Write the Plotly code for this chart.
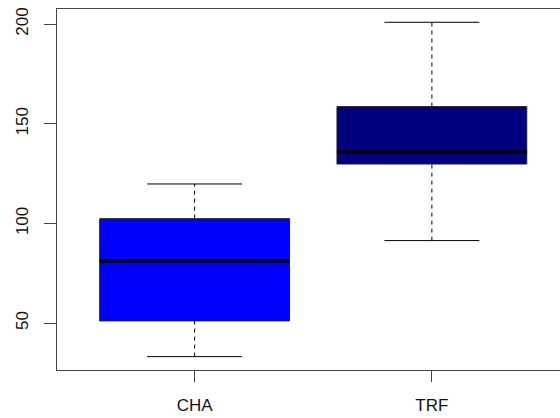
import plotly.graph_objects as go

categories = ["CHA", "TRF"]
positions = [1, 2]
lower_whisker = [33.2, 91.4]
q1 = [51.1, 129.8]
median = [81.2, 135.8]
q3 = [102.4, 158.6]
upper_whisker = [119.8, 200.9]
fill_colors = ["#0000FF", "#000080"]
y_ticks = [50, 100, 150, 200]

box_width = 0.8
cap_width = 0.4

fig = go.Figure()

for i, cat in enumerate(categories):
    x0 = positions[i]
    # dashed whiskers
    for a, b in [(lower_whisker[i], q1[i]), (q3[i], upper_whisker[i])]:
        fig.add_trace(go.Scatter(
            x=[x0, x0], y=[a, b], mode="lines",
            line=dict(color="black", width=1, dash="4px,4px"),
            hoverinfo="skip", showlegend=False))
    # caps
    for v in [lower_whisker[i], upper_whisker[i]]:
        fig.add_trace(go.Scatter(
            x=[x0 - cap_width / 2, x0 + cap_width / 2], y=[v, v], mode="lines",
            line=dict(color="black", width=1),
            hoverinfo="skip", showlegend=False))
    # box body
    fig.add_trace(go.Box(
        x=[x0], q1=[q1[i]], median=[median[i]], q3=[q3[i]],
        lowerfence=[q1[i]], upperfence=[q3[i]],
        width=box_width, whiskerwidth=0,
        fillcolor=fill_colors[i],
        line=dict(color="#222222", width=1),
        name=cat, showlegend=False, boxpoints=False))
    # thick median
    fig.add_trace(go.Scatter(
        x=[x0 - box_width / 2, x0 + box_width / 2], y=[median[i], median[i]],
        mode="lines", line=dict(color="black", width=3.5),
        hoverinfo="skip", showlegend=False))

font = dict(family="Liberation Sans, Arial, sans-serif", size=17, color="#111111")

fig.update_layout(
    width=560, height=418,
    margin=dict(l=57, r=0, t=9, b=48, autoexpand=False),
    paper_bgcolor="white", plot_bgcolor="white",
    font=font,
    xaxis=dict(
        range=[0.42, 2.54],
        tickmode="array", tickvals=positions, ticktext=categories,
        showgrid=False, zeroline=False, automargin=False,
        showline=True, linecolor="#444444", linewidth=1, mirror=True,
        ticks="outside", ticklen=11, tickcolor="#444444",
        tickfont=font, ticklabelstandoff=9,
    ),
    yaxis=dict(
        range=[26.5, 207.56],
        tickmode="array", tickvals=y_ticks, ticktext=[str(v) for v in y_ticks],
        showgrid=False, zeroline=False, automargin=False,
        showline=True, linecolor="#444444", linewidth=1, mirror=False,
        ticks="outside", ticklen=12, tickcolor="#444444",
        tickangle=-90, tickfont=font, ticklabelstandoff=9,
    ),
)

fig.write_html(
    "out.html",
    config={"displayModeBar": False},
    post_script="document.body.style.margin='0';document.body.style.overflow='hidden';",
)
